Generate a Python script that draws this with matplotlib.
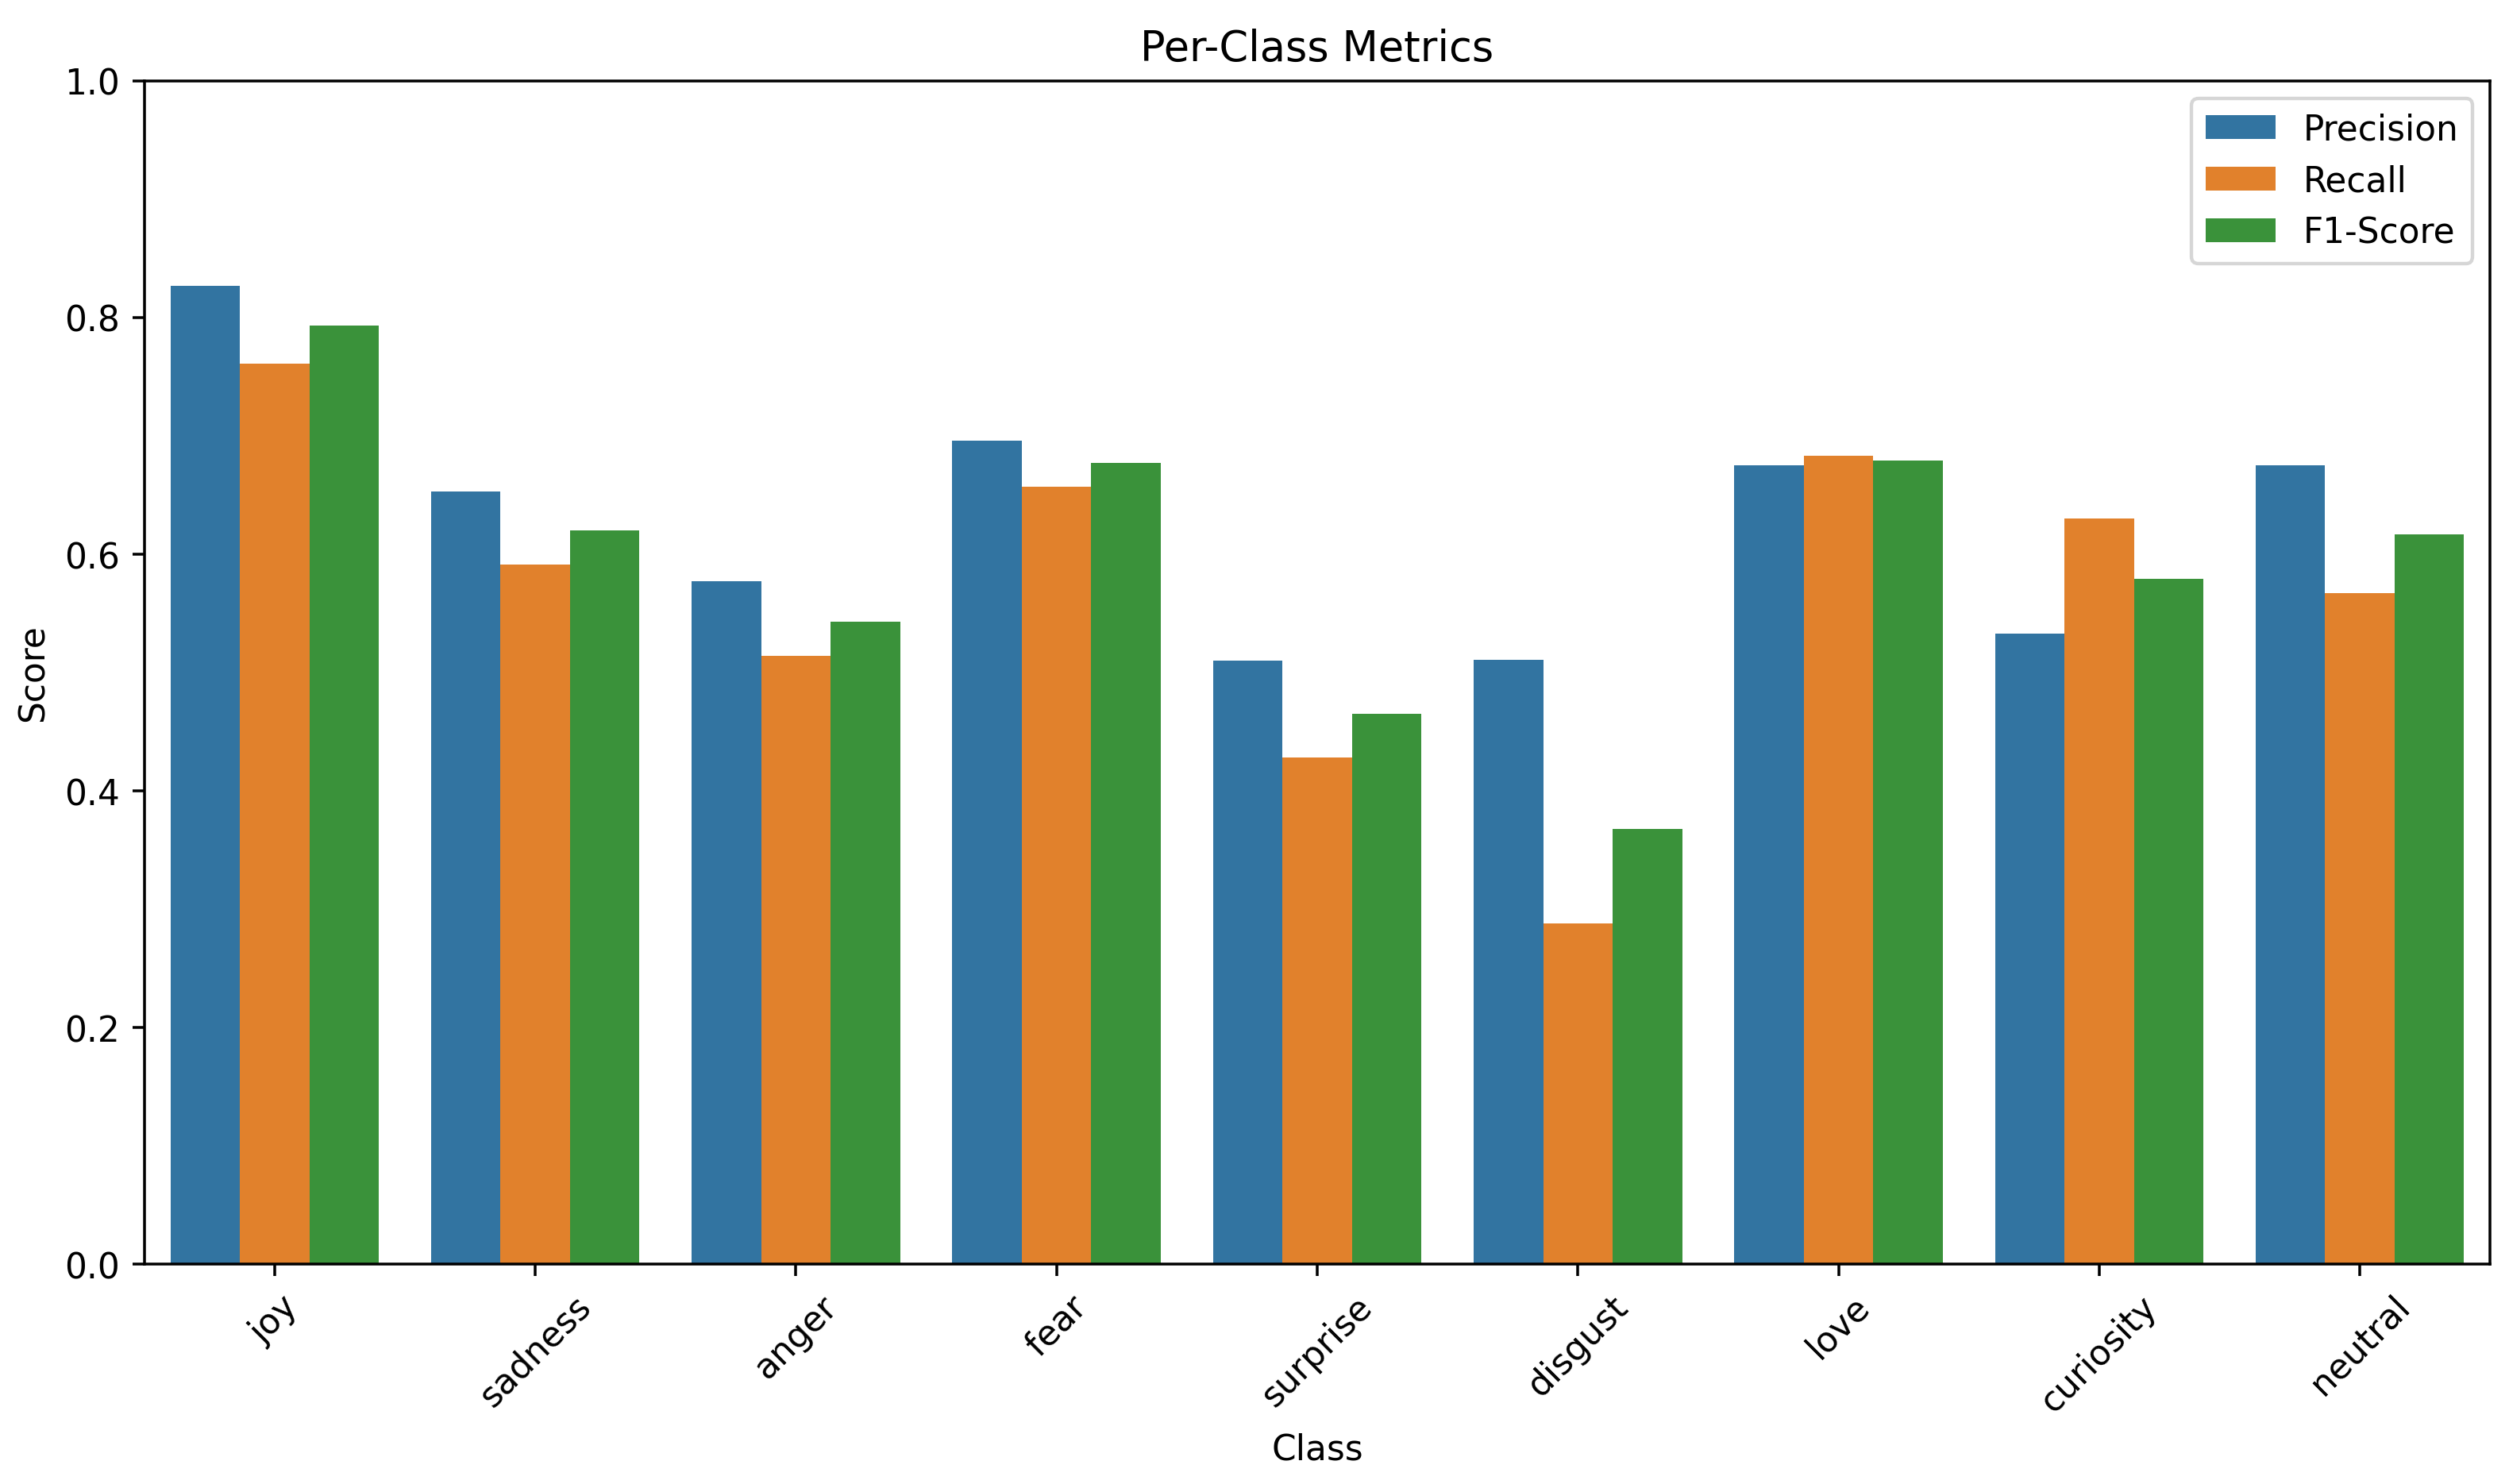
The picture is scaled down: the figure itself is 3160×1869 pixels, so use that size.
import numpy as np
import pandas as pd
import matplotlib
matplotlib.use("Agg")
import matplotlib.pyplot as plt
import seaborn as sns

classes = ["joy", "sadness", "anger", "fear", "surprise", "disgust", "love", "curiosity", "neutral"]
precision = [0.827, 0.653, 0.577, 0.696, 0.510, 0.511, 0.675, 0.533, 0.675]
recall = [0.761, 0.591, 0.514, 0.657, 0.428, 0.288, 0.683, 0.630, 0.567]
f1_score = [0.793, 0.620, 0.543, 0.677, 0.465, 0.368, 0.679, 0.579, 0.617]
metric_names = ["Precision", "Recall", "F1-Score"]


def build_frame():
    rows = []
    for name, values in zip(metric_names, (precision, recall, f1_score)):
        for c, v in zip(classes, values):
            rows.append({"Class": c, "Metric": name, "Score": v})
    return pd.DataFrame(rows)


def main():
    df = build_frame()
    fig = plt.figure(figsize=(3160 / 316, 1870 / 316), dpi=316)
    ax = fig.add_axes([0.0575, 0.148, 0.935, 0.797])

    sns.barplot(data=df, x="Class", y="Score", hue="Metric", ax=ax)

    ax.set_ylim(0, 1.0)
    ax.set_title("Per-Class Metrics")
    ax.set_xlabel("Class")
    ax.set_ylabel("Score")
    plt.setp(ax.get_xticklabels(), rotation=45)
    ax.legend(loc="upper right")

    fig.savefig("out.png", dpi=316)


if __name__ == "__main__":
    main()
